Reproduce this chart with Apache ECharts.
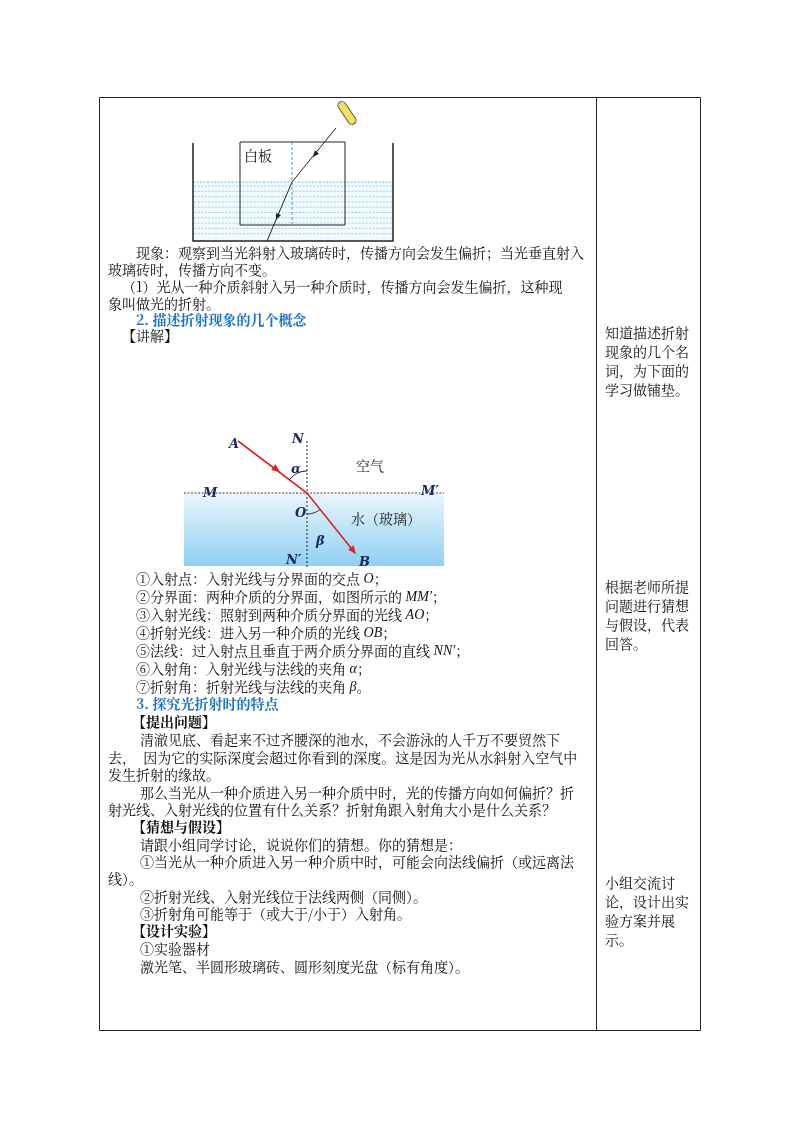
<!DOCTYPE html>
<html><head><meta charset="utf-8">
<script src="https://cdn.jsdelivr.net/npm/echarts@6/dist/echarts.min.js"></script>
<style>html,body{margin:0;padding:0;background:#fff}#c{width:800px;height:1132px}</style>
</head><body><div id="c"></div>
<script>
// 正文行：[文字, x, y, 样式]  样式 n=普通 b=加粗 h=蓝色标题
var bodyLines = [
  ['现象：观察到当光斜射入玻璃砖时，传播方向会发生偏折；当光垂直射入', 136, 253, 'n'],
  ['玻璃砖时，传播方向不变。', 108, 270, 'n'],
  ['（1）光从一种介质斜射入另一种介质时，传播方向会发生偏折，这种现', 122, 287, 'n'],
  ['象叫做光的折射。', 108, 304, 'n'],
  ['2. 描述折射现象的几个概念', 136, 320, 'h'],
  ['【讲解】', 122, 336, 'n'],
  ['①入射点：入射光线与分界面的交点 {i|O}；', 136, 579, 'n'],
  ['②分界面：两种介质的分界面，如图所示的 {i|MM′}；', 136, 597, 'n'],
  ['③入射光线：照射到两种介质分界面的光线 {i|AO}；', 136, 615, 'n'],
  ['④折射光线：进入另一种介质的光线 {i|OB}；', 136, 633, 'n'],
  ['⑤法线：过入射点且垂直于两介质分界面的直线 {i|NN′}；', 136, 651, 'n'],
  ['⑥入射角：入射光线与法线的夹角 {i|α}；', 136, 669, 'n'],
  ['⑦折射角：折射光线与法线的夹角 {i|β}。', 136, 687, 'n'],
  ['3. 探究光折射时的特点', 136, 704, 'h'],
  ['【提出问题】', 132, 722, 'b'],
  ['清澈见底、看起来不过齐腰深的池水，不会游泳的人千万不要贸然下', 140, 740, 'n'],
  ['去，  因为它的实际深度会超过你看到的深度。这是因为光从水斜射入空气中', 108, 758, 'n'],
  ['发生折射的缘故。', 108, 775, 'n'],
  ['那么当光从一种介质进入另一种介质中时，光的传播方向如何偏折？折', 140, 793, 'n'],
  ['射光线、入射光线的位置有什么关系？折射角跟入射角大小是什么关系？', 108, 810, 'n'],
  ['【猜想与假设】', 132, 827, 'b'],
  ['请跟小组同学讨论，说说你们的猜想。你的猜想是：', 140, 845, 'n'],
  ['①当光从一种介质进入另一种介质中时，可能会向法线偏折（或远离法', 140, 862, 'n'],
  ['线）。', 108, 879, 'n'],
  ['②折射光线、入射光线位于法线两侧（同侧）。', 140, 897, 'n'],
  ['③折射角可能等于（或大于/小于）入射角。', 140, 914, 'n'],
  ['【设计实验】', 132, 931, 'b'],
  ['①实验器材', 140, 949, 'n'],
  ['激光笔、半圆形玻璃砖、圆形刻度光盘（标有角度）。', 140, 967, 'n']
];
var sideLines = [
  ['知道描述折射', 333], ['现象的几个名', 352], ['词，为下面的', 371], ['学习做铺垫。', 390],
  ['根据老师所提', 587], ['问题进行猜想', 606], ['与假设，代表', 625], ['回答。', 644],
  ['小组交流讨', 883], ['论，设计出实', 902], ['验方案并展', 921], ['示。', 940]
];
// 折射图标注
var diagLabels = [
  ['A', 229, 438], ['N', 292, 433], ['α', 291, 463], ['M', 203, 487], ['M′', 421, 485],
  ['O', 295, 507], ['β', 316, 535], ['N′', 286, 554], ['B', 359, 556]
];
var rayPoints = [[238, 441], [307, 493], [355, 553]];
var penRay = [[336, 128], [292, 182], [267, 241]];

var font = '"Noto Serif CJK SC","Noto Sans CJK SC",serif';
var g = [];
function line(x1, y1, x2, y2, st) {
  g.push({type: 'line', shape: {x1: x1, y1: y1, x2: x2, y2: y2}, style: st});
}
function arrowHead(p, q, color, len) {
  var a = Math.atan2(q[1] - p[1], q[0] - p[0]);
  var w = 0.4;
  g.push({type: 'polygon', shape: {points: [q,
    [q[0] - len * Math.cos(a - w), q[1] - len * Math.sin(a - w)],
    [q[0] - len * Math.cos(a + w), q[1] - len * Math.sin(a + w)]]}, style: {fill: color}});
}
function arcPts(cx, cy, r, a0, a1) {
  var pts = [];
  for (var k = 0; k <= 20; k++) {
    var a = a0 + (a1 - a0) * k / 20;
    pts.push([cx + r * Math.cos(a), cy + r * Math.sin(a)]);
  }
  g.push({type: 'polyline', shape: {points: pts}, style: {stroke: '#112', lineWidth: 1, fill: 'none'}});
}
// 表格
g.push({type: 'rect', shape: {x: 99.5, y: 97.5, width: 601, height: 933}, style: {fill: 'none', stroke: '#222', lineWidth: 1}});
line(596.5, 97.5, 596.5, 1030.5, {stroke: '#222', lineWidth: 1});

// 上方水槽图
g.push({type: 'rect', shape: {x: 193, y: 182, width: 200, height: 59}, style: {fill: '#f3fafe'}});
for (var y = 186; y <= 238; y += 5.3) {
  line(194, y, 392, y, {stroke: '#7cc6e8', lineWidth: 0.8, lineDash: [2, 1.5]});
}
line(193, 182, 393, 182, {stroke: '#6bbce0', lineWidth: 1, lineDash: [2, 1.5]});
g.push({type: 'polyline', shape: {points: [[193, 143], [193, 241], [393, 241], [393, 143]]}, style: {stroke: '#222', lineWidth: 1.5, fill: 'none'}});
g.push({type: 'rect', shape: {x: 240, y: 142, width: 105, height: 83}, style: {fill: 'none', stroke: '#222', lineWidth: 1}});
line(292, 142, 292, 225, {stroke: '#3aa0dd', lineWidth: 1, lineDash: [3, 2]});
g.push({type: 'text', style: {text: '白板', x: 244, y: 149, font: '14px ' + font, fill: '#111'}});
g.push({type: 'polyline', shape: {points: penRay}, style: {stroke: '#222', lineWidth: 1, fill: 'none'}});
arrowHead(penRay[0], [313, 157], '#222', 7);
arrowHead(penRay[1], [276, 220], '#222', 7);
g.push({type: 'rect', shape: {x: -13, y: -4, width: 26, height: 8, r: 4}, x: 347, y: 113, rotation: Math.atan2(22, -15),
  style: {fill: '#f0e060', stroke: '#555', lineWidth: 1}});

// 折射示意图
g.push({type: 'rect', shape: {x: 184, y: 493, width: 260, height: 73},
  style: {fill: new echarts.graphic.LinearGradient(0, 0, 0, 1, [{offset: 0, color: '#eaf6fd'}, {offset: 1, color: '#8fd0f2'}])}});
line(184, 493, 444, 493, {stroke: '#444', lineWidth: 1, lineDash: [2, 1.5]});
line(307, 441, 307, 567, {stroke: '#223', lineWidth: 1, lineDash: [2, 2]});
arcPts(307, 493, 22, Math.atan2(-52, -69), -Math.PI / 2);
arcPts(307, 493, 21, Math.PI / 2, Math.atan2(60, 48));
g.push({type: 'polyline', shape: {points: rayPoints}, style: {stroke: '#e02020', lineWidth: 1.6, fill: 'none'}});
arrowHead(rayPoints[0], [280, 472], '#e02020', 9);
arrowHead(rayPoints[1], [356, 554], '#e02020', 9);
diagLabels.forEach(function (d) {
  g.push({type: 'text', style: {text: d[0], x: d[1], y: d[2], font: 'italic bold 13px "DejaVu Serif",serif', fill: '#1a2a60'}});
});
g.push({type: 'text', style: {text: '空气', x: 356, y: 459, font: '14px ' + font, fill: '#333'}});
g.push({type: 'text', style: {text: '水（玻璃）', x: 351, y: 512, font: '14px ' + font, fill: '#222'}});

// 正文
bodyLines.forEach(function (l) {
  var st = l[3];
  g.push({type: 'text', style: {
    text: l[0], x: l[1], y: l[2], verticalAlign: 'middle',
    font: (st === 'n' ? '' : 'bold ') + '14px ' + font,
    fill: st === 'h' ? '#1a73c8' : '#111',
    rich: {i: {fontStyle: 'italic', fontFamily: '"Liberation Serif",serif', fontSize: 14, fill: '#111'}}
  }});
});
sideLines.forEach(function (l) {
  g.push({type: 'text', style: {text: l[0], x: 605, y: l[1], verticalAlign: 'middle', font: '14px ' + font, fill: '#111'}});
});

var chart = echarts.init(document.getElementById('c'));
chart.setOption({animation: false, graphic: g});
</script>
</body></html>
